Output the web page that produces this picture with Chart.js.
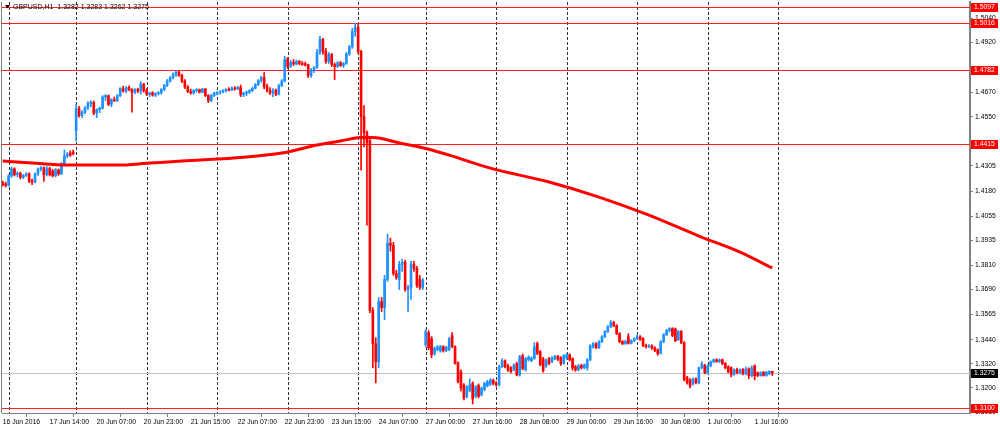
<!DOCTYPE html>
<html lang="en">
<head>
  <meta charset="UTF-8">
  <title>GBPUSD H1</title>
  <script src="https://cdn.jsdelivr.net/npm/chart.js"></script>
  <style>
    body { margin: 0; background: #fff; }
  </style>
</head>
<body>
  <canvas id="priceChart" width="1000" height="430"></canvas>

  <script>
    // hourly bars, [open, high, low, close], one array per trading day
    const jun16 = [
      [1.4222, 1.4230, 1.4205, 1.4210], [1.4215, 1.4224, 1.4200, 1.4208]
    ];
    const jun17 = [
      [1.4208, 1.4262, 1.4204, 1.4255], [1.4255, 1.4300, 1.4248, 1.4290], [1.4290, 1.4296, 1.4255, 1.4262],
      [1.4262, 1.4276, 1.4250, 1.4268], [1.4268, 1.4274, 1.4240, 1.4248], [1.4248, 1.4262, 1.4242, 1.4258],
      [1.4258, 1.4272, 1.4252, 1.4266], [1.4266, 1.4270, 1.4222, 1.4230], [1.4230, 1.4240, 1.4212, 1.4225],
      [1.4225, 1.4270, 1.4220, 1.4265], [1.4265, 1.4295, 1.4258, 1.4288], [1.4288, 1.4302, 1.4280, 1.4296],
      [1.4296, 1.4300, 1.4228, 1.4262], [1.4262, 1.4302, 1.4255, 1.4292], [1.4292, 1.4298, 1.4255, 1.4262],
      [1.4280, 1.4288, 1.4250, 1.4256], [1.4256, 1.4292, 1.4250, 1.4285], [1.4285, 1.4290, 1.4258, 1.4265],
      [1.4265, 1.4322, 1.4262, 1.4315], [1.4315, 1.4385, 1.4310, 1.4355], [1.4355, 1.4372, 1.4345, 1.4364],
      [1.4370, 1.4380, 1.4352, 1.4358], [1.4372, 1.4384, 1.4360, 1.4366]
    ];
    const jun20 = [
      [1.4480, 1.4612, 1.4430, 1.4590], [1.4590, 1.4602, 1.4548, 1.4555], [1.4555, 1.4580, 1.4545, 1.4572],
      [1.4572, 1.4600, 1.4565, 1.4595], [1.4595, 1.4625, 1.4585, 1.4615], [1.4615, 1.4630, 1.4600, 1.4622],
      [1.4622, 1.4628, 1.4560, 1.4568], [1.4568, 1.4590, 1.4545, 1.4585], [1.4585, 1.4598, 1.4570, 1.4592],
      [1.4592, 1.4655, 1.4588, 1.4648], [1.4648, 1.4660, 1.4630, 1.4655], [1.4655, 1.4658, 1.4605, 1.4612],
      [1.4612, 1.4640, 1.4600, 1.4635], [1.4635, 1.4648, 1.4625, 1.4630], [1.4630, 1.4660, 1.4625, 1.4655],
      [1.4655, 1.4695, 1.4650, 1.4690], [1.4690, 1.4702, 1.4672, 1.4678], [1.4678, 1.4700, 1.4670, 1.4695],
      [1.4695, 1.4704, 1.4680, 1.4685], [1.4685, 1.4690, 1.4572, 1.4672], [1.4672, 1.4690, 1.4665, 1.4686],
      [1.4686, 1.4692, 1.4670, 1.4678], [1.4678, 1.4725, 1.4662, 1.4712], [1.4712, 1.4716, 1.4672, 1.4680]
    ];
    const jun21 = [
      [1.4680, 1.4690, 1.4655, 1.4662], [1.4662, 1.4672, 1.4650, 1.4668], [1.4668, 1.4675, 1.4652, 1.4658],
      [1.4658, 1.4670, 1.4650, 1.4665], [1.4665, 1.4675, 1.4658, 1.4670], [1.4670, 1.4690, 1.4662, 1.4685],
      [1.4685, 1.4712, 1.4680, 1.4705], [1.4705, 1.4735, 1.4700, 1.4728], [1.4728, 1.4750, 1.4722, 1.4745],
      [1.4745, 1.4768, 1.4738, 1.4760], [1.4760, 1.4780, 1.4750, 1.4772], [1.4772, 1.4778, 1.4750, 1.4755],
      [1.4755, 1.4762, 1.4720, 1.4728], [1.4728, 1.4735, 1.4690, 1.4698], [1.4698, 1.4705, 1.4670, 1.4675],
      [1.4675, 1.4688, 1.4662, 1.4668], [1.4668, 1.4685, 1.4662, 1.4680], [1.4680, 1.4690, 1.4672, 1.4685],
      [1.4685, 1.4688, 1.4668, 1.4672], [1.4672, 1.4692, 1.4668, 1.4688], [1.4688, 1.4690, 1.4650, 1.4655],
      [1.4655, 1.4660, 1.4620, 1.4630], [1.4630, 1.4662, 1.4625, 1.4655], [1.4655, 1.4672, 1.4650, 1.4668]
    ];
    const jun22 = [
      [1.4662, 1.4675, 1.4658, 1.4670], [1.4670, 1.4680, 1.4662, 1.4675], [1.4675, 1.4685, 1.4668, 1.4680],
      [1.4680, 1.4690, 1.4672, 1.4686], [1.4686, 1.4695, 1.4678, 1.4682], [1.4682, 1.4698, 1.4680, 1.4692],
      [1.4692, 1.4700, 1.4682, 1.4688], [1.4688, 1.4702, 1.4685, 1.4696], [1.4696, 1.4708, 1.4650, 1.4660],
      [1.4660, 1.4672, 1.4650, 1.4668], [1.4668, 1.4678, 1.4655, 1.4672], [1.4672, 1.4685, 1.4665, 1.4680],
      [1.4680, 1.4698, 1.4675, 1.4692], [1.4692, 1.4715, 1.4688, 1.4710], [1.4710, 1.4735, 1.4705, 1.4730],
      [1.4730, 1.4752, 1.4722, 1.4745], [1.4745, 1.4770, 1.4690, 1.4700], [1.4700, 1.4712, 1.4672, 1.4680],
      [1.4680, 1.4695, 1.4660, 1.4668], [1.4668, 1.4690, 1.4650, 1.4682], [1.4682, 1.4688, 1.4655, 1.4662],
      [1.4662, 1.4712, 1.4658, 1.4705], [1.4705, 1.4735, 1.4700, 1.4728], [1.4728, 1.4850, 1.4722, 1.4835]
    ];
    const jun23 = [
      [1.4835, 1.4845, 1.4790, 1.4800], [1.4800, 1.4830, 1.4795, 1.4820], [1.4820, 1.4835, 1.4805, 1.4812],
      [1.4812, 1.4832, 1.4808, 1.4825], [1.4825, 1.4830, 1.4808, 1.4815], [1.4815, 1.4825, 1.4805, 1.4810],
      [1.4812, 1.4822, 1.4802, 1.4808], [1.4808, 1.4812, 1.4745, 1.4755], [1.4755, 1.4790, 1.4745, 1.4782],
      [1.4782, 1.4800, 1.4770, 1.4795], [1.4795, 1.4885, 1.4790, 1.4870], [1.4870, 1.4950, 1.4860, 1.4935],
      [1.4935, 1.4940, 1.4860, 1.4875], [1.4875, 1.4890, 1.4815, 1.4825], [1.4825, 1.4870, 1.4815, 1.4860],
      [1.4860, 1.4865, 1.4800, 1.4810], [1.4810, 1.4818, 1.4735, 1.4800], [1.4800, 1.4825, 1.4795, 1.4818],
      [1.4818, 1.4825, 1.4800, 1.4805], [1.4805, 1.4820, 1.4795, 1.4815], [1.4815, 1.4870, 1.4810, 1.4862],
      [1.4862, 1.4905, 1.4855, 1.4898], [1.4898, 1.4990, 1.4890, 1.4975], [1.4975, 1.5015, 1.4950, 1.4995]
    ];
    const jun24 = [
      [1.4995, 1.5010, 1.4865, 1.4875], [1.4875, 1.4880, 1.4284, 1.4550], [1.4550, 1.4605, 1.4400, 1.4470],
      [1.4470, 1.4480, 1.4010, 1.4420], [1.4430, 1.4450, 1.3575, 1.3585], [1.3585, 1.3600, 1.3300, 1.3420],
      [1.3420, 1.3450, 1.3225, 1.3330], [1.3330, 1.3650, 1.3300, 1.3630], [1.3630, 1.3650, 1.3580, 1.3600],
      [1.3600, 1.3760, 1.3540, 1.3740], [1.3740, 1.3965, 1.3730, 1.3920], [1.3920, 1.3945, 1.3880, 1.3910],
      [1.3910, 1.3925, 1.3760, 1.3770], [1.3770, 1.3785, 1.3740, 1.3750], [1.3740, 1.3830, 1.3690, 1.3815],
      [1.3815, 1.3840, 1.3780, 1.3825], [1.3825, 1.3835, 1.3680, 1.3690], [1.3690, 1.3710, 1.3580, 1.3700],
      [1.3700, 1.3830, 1.3640, 1.3815], [1.3815, 1.3830, 1.3780, 1.3795], [1.3795, 1.3805, 1.3700, 1.3710],
      [1.3740, 1.3760, 1.3690, 1.3700], [1.3700, 1.3745, 1.3690, 1.3735]
    ];
    const jun27 = [
      [1.3415, 1.3490, 1.3405, 1.3480], [1.3475, 1.3485, 1.3390, 1.3400], [1.3445, 1.3455, 1.3350, 1.3365],
      [1.3372, 1.3405, 1.3362, 1.3397], [1.3390, 1.3410, 1.3384, 1.3405], [1.3384, 1.3412, 1.3378, 1.3405],
      [1.3405, 1.3410, 1.3378, 1.3385], [1.3387, 1.3408, 1.3380, 1.3402], [1.3390, 1.3452, 1.3385, 1.3445],
      [1.3460, 1.3475, 1.3400, 1.3405], [1.3405, 1.3410, 1.3318, 1.3322], [1.3325, 1.3330, 1.3225, 1.3231],
      [1.3280, 1.3290, 1.3185, 1.3200], [1.3215, 1.3222, 1.3140, 1.3150], [1.3158, 1.3212, 1.3150, 1.3205],
      [1.3185, 1.3245, 1.3180, 1.3215], [1.3222, 1.3230, 1.3120, 1.3145], [1.3158, 1.3212, 1.3150, 1.3205],
      [1.3212, 1.3220, 1.3150, 1.3158], [1.3165, 1.3205, 1.3160, 1.3198], [1.3192, 1.3228, 1.3185, 1.3222],
      [1.3210, 1.3238, 1.3205, 1.3232], [1.3218, 1.3246, 1.3212, 1.3240], [1.3238, 1.3244, 1.3215, 1.3222]
    ];
    const jun28 = [
      [1.3225, 1.3232, 1.3208, 1.3215], [1.3215, 1.3312, 1.3210, 1.3306], [1.3306, 1.3345, 1.3300, 1.3335],
      [1.3335, 1.3340, 1.3300, 1.3306], [1.3310, 1.3318, 1.3282, 1.3289], [1.3300, 1.3306, 1.3275, 1.3281],
      [1.3290, 1.3320, 1.3284, 1.3314], [1.3320, 1.3328, 1.3260, 1.3265], [1.3265, 1.3362, 1.3258, 1.3355],
      [1.3360, 1.3368, 1.3290, 1.3297], [1.3290, 1.3352, 1.3285, 1.3345], [1.3340, 1.3360, 1.3335, 1.3352],
      [1.3335, 1.3355, 1.3330, 1.3348], [1.3347, 1.3425, 1.3342, 1.3405], [1.3420, 1.3428, 1.3365, 1.3372],
      [1.3380, 1.3386, 1.3310, 1.3315], [1.3345, 1.3352, 1.3278, 1.3285], [1.3308, 1.3345, 1.3302, 1.3338],
      [1.3345, 1.3352, 1.3315, 1.3322], [1.3330, 1.3356, 1.3325, 1.3350], [1.3345, 1.3362, 1.3340, 1.3357],
      [1.3357, 1.3362, 1.3336, 1.3342], [1.3350, 1.3356, 1.3312, 1.3320], [1.3322, 1.3366, 1.3318, 1.3360]
    ];
    const jun29 = [
      [1.3350, 1.3372, 1.3342, 1.3365], [1.3365, 1.3370, 1.3334, 1.3340], [1.3345, 1.3350, 1.3288, 1.3300],
      [1.3305, 1.3312, 1.3282, 1.3290], [1.3290, 1.3316, 1.3285, 1.3310], [1.3312, 1.3318, 1.3294, 1.3300],
      [1.3300, 1.3320, 1.3295, 1.3315], [1.3300, 1.3345, 1.3288, 1.3340], [1.3340, 1.3415, 1.3335, 1.3410],
      [1.3405, 1.3425, 1.3398, 1.3420], [1.3420, 1.3426, 1.3395, 1.3400], [1.3400, 1.3435, 1.3396, 1.3430],
      [1.3430, 1.3460, 1.3425, 1.3455], [1.3455, 1.3485, 1.3450, 1.3480], [1.3480, 1.3510, 1.3475, 1.3505],
      [1.3505, 1.3535, 1.3500, 1.3525], [1.3525, 1.3532, 1.3505, 1.3510], [1.3510, 1.3515, 1.3465, 1.3470],
      [1.3470, 1.3475, 1.3425, 1.3430], [1.3430, 1.3436, 1.3415, 1.3420], [1.3420, 1.3438, 1.3416, 1.3432],
      [1.3455, 1.3470, 1.3418, 1.3422], [1.3422, 1.3440, 1.3418, 1.3435], [1.3435, 1.3450, 1.3430, 1.3445]
    ];
    const jun30 = [
      [1.3445, 1.3465, 1.3440, 1.3455], [1.3455, 1.3460, 1.3436, 1.3440], [1.3445, 1.3450, 1.3405, 1.3410],
      [1.3412, 1.3418, 1.3398, 1.3405], [1.3405, 1.3415, 1.3400, 1.3410], [1.3410, 1.3414, 1.3392, 1.3398],
      [1.3400, 1.3405, 1.3380, 1.3385], [1.3390, 1.3394, 1.3362, 1.3370], [1.3372, 1.3435, 1.3368, 1.3430],
      [1.3430, 1.3470, 1.3425, 1.3465], [1.3465, 1.3492, 1.3460, 1.3485], [1.3485, 1.3500, 1.3478, 1.3495],
      [1.3495, 1.3500, 1.3455, 1.3460], [1.3492, 1.3498, 1.3430, 1.3435], [1.3440, 1.3486, 1.3436, 1.3480],
      [1.3480, 1.3486, 1.3420, 1.3425], [1.3425, 1.3430, 1.3235, 1.3240], [1.3250, 1.3258, 1.3218, 1.3225],
      [1.3240, 1.3246, 1.3200, 1.3210], [1.3220, 1.3250, 1.3214, 1.3245], [1.3245, 1.3250, 1.3220, 1.3225],
      [1.3225, 1.3304, 1.3220, 1.3300], [1.3300, 1.3330, 1.3295, 1.3320], [1.3312, 1.3318, 1.3270, 1.3275]
    ];
    const jul01 = [
      [1.3275, 1.3315, 1.3270, 1.3310], [1.3310, 1.3335, 1.3305, 1.3330], [1.3330, 1.3344, 1.3325, 1.3340],
      [1.3340, 1.3345, 1.3328, 1.3332], [1.3330, 1.3344, 1.3326, 1.3340], [1.3340, 1.3344, 1.3315, 1.3320],
      [1.3322, 1.3326, 1.3295, 1.3300], [1.3305, 1.3310, 1.3275, 1.3280], [1.3300, 1.3305, 1.3255, 1.3265],
      [1.3268, 1.3295, 1.3262, 1.3290], [1.3292, 1.3298, 1.3270, 1.3275], [1.3275, 1.3295, 1.3270, 1.3290],
      [1.3292, 1.3296, 1.3265, 1.3270], [1.3270, 1.3305, 1.3266, 1.3295], [1.3295, 1.3300, 1.3245, 1.3260],
      [1.3260, 1.3310, 1.3255, 1.3300], [1.3310, 1.3315, 1.3240, 1.3260], [1.3275, 1.3280, 1.3256, 1.3262],
      [1.3262, 1.3280, 1.3258, 1.3275], [1.3278, 1.3282, 1.3258, 1.3262], [1.3262, 1.3282, 1.3258, 1.3278],
      [1.3270, 1.3286, 1.3266, 1.3282], [1.3282, 1.3283, 1.3262, 1.3275]
    ];

    // moving average (bar number, price)
    const maBars   = [0, 10, 22, 39, 50, 61, 73, 84, 95, 107, 115, 122, 126, 135, 144, 152, 166, 186, 203, 220, 237, 251, 262];
    const maValues = [1.4329, 1.4319, 1.4309, 1.4309, 1.4319, 1.4329, 1.4339, 1.4351, 1.4369, 1.4409, 1.4429, 1.4446,
                      1.4446, 1.4419, 1.4392, 1.4359, 1.4294, 1.4225, 1.4150, 1.4060, 1.3956, 1.3876, 1.3797];

    // axes
    const timeLabels = ['16 Jun 2016', '17 Jun 14:00', '20 Jun 07:00', '20 Jun 23:00', '21 Jun 15:00', '22 Jun 07:00',
                        '22 Jun 23:00', '23 Jun 15:00', '24 Jun 07:00', '27 Jun 00:00', '27 Jun 16:00', '28 Jun 08:00',
                        '29 Jun 00:00', '29 Jun 16:00', '30 Jun 08:00', '1 Jul 00:00', '1 Jul 16:00'];
    const labelBars = [0, 16, 32, 48, 64, 80, 96, 112, 128, 144, 160, 176, 192, 208, 224, 240, 256];
    const dayStartBars = [2, 25, 49, 73, 97, 121, 144, 168, 192, 216, 240, 264];
    const priceTicks = [1.5040, 1.4920, 1.4670, 1.4550, 1.4305, 1.4180, 1.4055, 1.3935, 1.3810, 1.3690,
                        1.3565, 1.3440, 1.3320, 1.3200, 1.3080];

    // horizontal lines
    const levelPrices = [1.5097, 1.5016, 1.4782, 1.4415, 1.3100];
    const bidPrice = 1.3275;
    const title = 'GBPUSD,H1  1.3282 1.3283 1.3262 1.3275';

    const bars = [jun16, jun17, jun20, jun21, jun22, jun23, jun24, jun27, jun28, jun29, jun30, jul01].flat();

    const UP = '#1e90ff';
    const DOWN = '#ff0000';
    const FONT = { family: 'Liberation Sans', size: 6.8 };

    const wickData = bars.map((b, i) => ({ x: i, y: [b[2], b[1]] }));
    const bodyData = bars.map((b, i) => ({ x: i, y: [b[0], b[3]] }));
    const barColor = ctx => {
      const b = bars[ctx.dataIndex];
      return b && b[3] < b[0] ? DOWN : UP;
    };

    const overlay = {
      id: 'overlay',
      beforeDatasetsDraw(chart) {
        const { ctx, chartArea: a, scales: { x, y } } = chart;
        ctx.save();
        // day separators
        ctx.strokeStyle = '#333';
        ctx.lineWidth = 1;
        ctx.setLineDash([3, 2]);
        dayStartBars.forEach(d => {
          const px = Math.round(x.getPixelForValue(d)) + 0.5;
          ctx.beginPath();
          ctx.moveTo(px, a.top);
          ctx.lineTo(px, a.bottom);
          ctx.stroke();
        });
        ctx.setLineDash([]);
        // bid line
        ctx.strokeStyle = '#c0c0c0';
        let py = Math.round(y.getPixelForValue(bidPrice)) + 0.5;
        ctx.beginPath();
        ctx.moveTo(a.left, py);
        ctx.lineTo(a.right, py);
        ctx.stroke();
        // levels
        ctx.strokeStyle = '#ff2020';
        levelPrices.forEach(v => {
          py = Math.round(y.getPixelForValue(v)) + 0.5;
          ctx.beginPath();
          ctx.moveTo(a.left, py);
          ctx.lineTo(a.right, py);
          ctx.stroke();
        });
        // left frame
        ctx.strokeStyle = '#808080';
        ctx.beginPath();
        ctx.moveTo(a.left - 0.5, a.top);
        ctx.lineTo(a.left - 0.5, a.bottom);
        ctx.stroke();
        ctx.restore();
      },
      afterDraw(chart) {
        const { ctx, chartArea: a, scales: { y } } = chart;
        ctx.save();
        ctx.font = FONT.size + 'px ' + FONT.family;
        ctx.textBaseline = 'middle';
        const tag = (v, fill) => {
          const py = Math.round(y.getPixelForValue(v));
          ctx.fillStyle = fill;
          ctx.fillRect(a.right + 1, py - 4, 27, 9);
          ctx.fillStyle = '#fff';
          ctx.fillText(v.toFixed(4), a.right + 4, py + 0.5);
        };
        levelPrices.forEach(v => tag(v, '#ff0000'));
        tag(bidPrice, '#000');
        // symbol caption
        ctx.fillStyle = '#000';
        ctx.beginPath();
        ctx.moveTo(5, 5);
        ctx.lineTo(10, 5);
        ctx.lineTo(7.5, 8.5);
        ctx.closePath();
        ctx.fill();
        ctx.font = '7px Liberation Sans';
        ctx.fillText(title, 13, 7);
        ctx.restore();
      }
    };

    const ctx = document.getElementById('priceChart').getContext('2d');
    new Chart(ctx, {
      type: 'bar',
      data: {
        datasets: [
          {
            type: 'line',
            data: maBars.map((b, i) => ({ x: b, y: maValues[i] })),
            borderColor: '#ff0000',
            borderWidth: 3,
            pointRadius: 0,
            cubicInterpolationMode: 'monotone',
            order: 0
          },
          {
            data: bodyData,
            backgroundColor: barColor,
            barThickness: 2,
            minBarLength: 1,
            grouped: false,
            order: 1
          },
          {
            data: wickData,
            backgroundColor: barColor,
            barThickness: 1,
            grouped: false,
            order: 2
          }
        ]
      },
      options: {
        responsive: false,
        animation: false,
        layout: { padding: { left: 2, top: 2, right: 0, bottom: 0 } },
        plugins: { legend: { display: false }, tooltip: { enabled: false } },
        scales: {
          x: {
            type: 'linear',
            min: -0.24,
            max: 329.3,
            offset: false,
            afterBuildTicks: s => { s.ticks = labelBars.map(v => ({ value: v })); },
            afterFit: s => { s.height = 17; s.paddingLeft = 0; s.paddingRight = 0; },
            ticks: {
              callback: (v, k) => timeLabels[k],
              align: 'start',
              autoSkip: false,
              maxRotation: 0,
              padding: 1,
              color: '#000',
              font: FONT
            },
            grid: { drawOnChartArea: false, tickLength: 4, color: '#808080' },
            border: { color: '#808080', width: 1 }
          },
          y: {
            position: 'right',
            min: 1.3075,
            max: 1.5121,
            afterBuildTicks: s => { s.ticks = priceTicks.map(v => ({ value: v })); },
            afterFit: s => { s.width = 30; s.paddingTop = 0; s.paddingBottom = 0; },
            ticks: {
              callback: v => v.toFixed(4),
              padding: 2,
              color: '#000',
              font: FONT
            },
            grid: { drawOnChartArea: false, tickLength: 3, color: '#808080' },
            border: { color: '#808080', width: 2 }
          }
        }
      },
      plugins: [overlay]
    });
  </script>
</body>
</html>
